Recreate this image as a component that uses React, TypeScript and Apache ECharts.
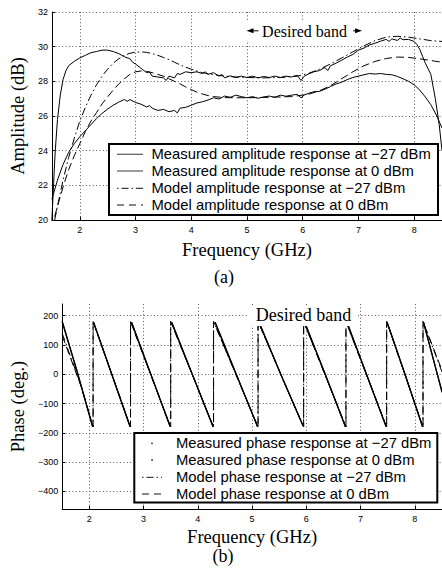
import React, { useEffect, useRef } from "react";
import * as echarts from "echarts";

// ---------- tick labels ----------
const freqTicks = [2, 3, 4, 5, 6, 7, 8];
const ampTicks = [20, 22, 24, 26, 28, 30, 32];
const phaseTicks = [-400, -300, -200, -100, 0, 100, 200];

// ---------- series names ----------
const ampNames = [
  "Measured amplitude response at \u221227 dBm",
  "Measured amplitude response at 0 dBm",
  "Model amplitude response at \u221227 dBm",
  "Model amplitude response at 0 dBm",
];
const phaseNames = [
  "Measured phase response at \u221227 dBm",
  "Measured phase response at 0 dBm",
  "Model phase response at \u221227 dBm",
  "Model phase response at 0 dBm",
];

// ---------- amplitude (dB) vs frequency (GHz) ----------
const measAmp27: [number, number][] = [
  [1.5, 20.0], [1.53, 22.1], [1.56, 24.0], [1.6, 25.8], [1.65, 27.2], [1.7, 28.1], [1.75, 28.6], [1.8, 28.9],
  [1.9, 29.15], [2.0, 29.35], [2.1, 29.5], [2.2, 29.65], [2.3, 29.72], [2.4, 29.8], [2.5, 29.8], [2.6, 29.72],
  [2.7, 29.6], [2.8, 29.42], [2.9, 29.3], [2.95, 29.1], [3.0, 29.0], [3.1, 28.75], [3.2, 28.5], [3.25, 28.55],
  [3.3, 28.3], [3.4, 28.25], [3.5, 28.2], [3.55, 28.05], [3.6, 28.3], [3.7, 28.2], [3.75, 28.45], [3.8, 28.4],
  [3.9, 28.55], [4.0, 28.5], [4.1, 28.55], [4.2, 28.45], [4.25, 28.55], [4.3, 28.4], [4.4, 28.5], [4.5, 28.3],
  [4.55, 28.4], [4.6, 28.2], [4.7, 28.32], [4.8, 28.22], [4.9, 28.3], [5.0, 28.22], [5.1, 28.3], [5.2, 28.2],
  [5.3, 28.28], [5.4, 28.22], [5.5, 28.3], [5.6, 28.22], [5.7, 28.3], [5.8, 28.25], [5.9, 28.35], [5.97, 28.05],
  [6.03, 28.3], [6.1, 28.42], [6.2, 28.55], [6.3, 28.62], [6.4, 28.8], [6.45, 28.62], [6.5, 28.9], [6.6, 29.05],
  [6.7, 29.22], [6.8, 29.4], [6.9, 29.55], [7.0, 29.8], [7.1, 29.92], [7.2, 30.1], [7.3, 30.2], [7.4, 30.32],
  [7.5, 30.42], [7.55, 30.3], [7.6, 30.45], [7.7, 30.36], [7.75, 30.5], [7.8, 30.4], [7.9, 30.42], [8.0, 30.3],
  [8.05, 30.12], [8.1, 29.85], [8.15, 29.45], [8.2, 29.05], [8.3, 28.4], [8.38, 27.0], [8.45, 25.5], [8.5, 24.0],
];
const measAmp0: [number, number][] = [
  [1.5, 21.2], [1.6, 22.3], [1.7, 23.2], [1.8, 23.9], [1.9, 24.4], [2.0, 24.8], [2.1, 25.15], [2.2, 25.5],
  [2.3, 25.85], [2.4, 26.15], [2.5, 26.4], [2.6, 26.62], [2.7, 26.8], [2.8, 26.95], [2.85, 26.85], [2.9, 26.95],
  [3.0, 26.78], [3.1, 26.68], [3.2, 26.52], [3.25, 26.6], [3.3, 26.45], [3.4, 26.32], [3.5, 26.38], [3.6, 26.25],
  [3.7, 26.32], [3.75, 26.18], [3.8, 26.45], [3.9, 26.5], [4.0, 26.62], [4.1, 26.75], [4.2, 26.82], [4.3, 26.92],
  [4.4, 27.05], [4.5, 26.98], [4.6, 27.15], [4.7, 27.08], [4.8, 27.2], [4.9, 27.12], [5.0, 27.05], [5.1, 27.12],
  [5.2, 27.02], [5.3, 27.1], [5.4, 27.15], [5.5, 27.08], [5.6, 27.2], [5.7, 27.14], [5.8, 27.2], [5.9, 27.25],
  [5.97, 27.05], [6.03, 27.22], [6.1, 27.3], [6.2, 27.4], [6.3, 27.42], [6.4, 27.55], [6.5, 27.7], [6.6, 27.85],
  [6.7, 27.95], [6.8, 28.1], [6.9, 28.22], [7.0, 28.3], [7.1, 28.38], [7.2, 28.45], [7.3, 28.42], [7.4, 28.45],
  [7.5, 28.4], [7.6, 28.38], [7.7, 28.28], [7.8, 28.15], [7.9, 28.0], [8.0, 27.8], [8.1, 27.5], [8.2, 27.1],
  [8.3, 26.65], [8.4, 26.05], [8.5, 25.3],
];
const modelAmp27: [number, number][] = [
  [1.55, 20.0], [1.6, 20.8], [1.7, 22.3], [1.8, 23.6], [1.9, 24.7], [2.0, 25.7], [2.1, 26.5], [2.2, 27.2],
  [2.3, 27.8], [2.4, 28.3], [2.5, 28.7], [2.6, 29.05], [2.7, 29.3], [2.8, 29.5], [2.9, 29.62], [3.0, 29.68],
  [3.1, 29.7], [3.2, 29.67], [3.3, 29.6], [3.4, 29.5], [3.5, 29.38], [3.6, 29.25], [3.7, 29.1], [3.8, 28.95],
  [3.9, 28.82], [4.0, 28.7], [4.2, 28.5], [4.4, 28.38], [4.6, 28.3], [4.8, 28.25], [5.0, 28.22], [5.3, 28.2],
  [5.6, 28.22], [5.9, 28.3], [6.1, 28.45], [6.3, 28.7], [6.5, 29.0], [6.7, 29.35], [6.9, 29.7], [7.1, 30.05],
  [7.3, 30.35], [7.5, 30.55], [7.7, 30.6], [7.9, 30.55], [8.1, 30.45], [8.3, 30.35], [8.5, 30.3],
];
const modelAmp0: [number, number][] = [
  [1.55, 20.2], [1.6, 20.8], [1.7, 21.9], [1.8, 22.9], [1.9, 23.7], [2.0, 24.4], [2.1, 25.1], [2.2, 25.7],
  [2.3, 26.2], [2.4, 26.7], [2.5, 27.1], [2.6, 27.5], [2.7, 27.85], [2.8, 28.15], [2.9, 28.4], [3.0, 28.55],
  [3.1, 28.6], [3.2, 28.57], [3.3, 28.5], [3.4, 28.4], [3.5, 28.3], [3.6, 28.15], [3.7, 28.0], [3.8, 27.85],
  [3.9, 27.68], [4.0, 27.52], [4.1, 27.38], [4.2, 27.27], [4.3, 27.18], [4.4, 27.12], [4.6, 27.06], [5.0, 27.05],
  [5.4, 27.08], [5.8, 27.12], [6.1, 27.25], [6.3, 27.45], [6.5, 27.75], [6.7, 28.15], [6.9, 28.55], [7.1, 28.9],
  [7.3, 29.15], [7.5, 29.32], [7.7, 29.4], [7.9, 29.38], [8.1, 29.3], [8.3, 29.2], [8.5, 29.1],
];

// ---------- phase (deg.) vs frequency (GHz) ----------
const measPhase27: [number, number][][] = [
  [[1.5, 182], [1.78, 8], [2.06, -178]],
  [[2.08, 178], [2.42, -2], [2.75, -178]],
  [[2.78, 178], [3.14, -2], [3.49, -178]],
  [[3.52, 178], [3.9, 0], [4.28, -178]],
  [[4.32, 178], [4.71, 0], [5.1, -178]],
  [[5.13, 178], [5.53, 0], [5.94, -176]],
  [[5.97, 178], [6.35, 0], [6.72, -178]],
  [[6.75, 178], [7.11, 0], [7.47, -178]],
  [[7.49, 178], [7.82, 0], [8.14, -178]],
  [[8.16, 178], [8.5, -62]],
];
const measPhase0: [number, number][][] = [
  [[1.5, 179], [1.78, 5], [2.06, -179]],
  [[2.08, 176], [2.42, -4], [2.75, -179]],
  [[2.78, 176], [3.14, -4], [3.49, -179]],
  [[3.52, 176], [3.9, -2], [4.28, -179]],
  [[4.32, 176], [4.71, -2], [5.1, -179]],
  [[5.13, 176], [5.53, -2], [5.94, -177]],
  [[5.97, 176], [6.35, -2], [6.72, -179]],
  [[6.75, 176], [7.11, -2], [7.47, -179]],
  [[7.49, 176], [7.82, -2], [8.14, -179]],
  [[8.16, 176], [8.5, -58]],
];
const modelPhase27: [number, number][] = [
  [1.5, 140], [1.85, -40], [2.07, -180], [2.07, 180], [2.76, -180], [2.76, 180], [3.5, -180], [3.5, 180],
  [4.29, -180], [4.29, 180], [5.11, -180], [5.11, 180], [5.95, -180], [5.95, 180], [6.73, -180], [6.73, 180],
  [7.48, -180], [7.48, 180], [8.15, -180], [8.15, 180], [8.5, 8],
];
const modelPhase0: [number, number][] = [
  [1.5, 132], [1.85, -42], [2.07, -180], [2.07, 180], [2.76, -180], [2.76, 180], [3.5, -180], [3.5, 180],
  [4.29, -180], [4.29, 180], [5.11, -180], [5.11, 180], [5.95, -180], [5.95, 180], [6.73, -180], [6.73, 180],
  [7.48, -180], [7.48, 180], [8.15, -180], [8.15, 180], [8.5, 14],
];

const SERIF = "'Liberation Serif', 'Times New Roman', Times, serif";
const SANS = "'Liberation Sans', Arial, Helvetica, sans-serif";
const DASH_DOT = [8, 3, 1.5, 3];
const DASHED = [8, 4];
const GRID_LINE = { color: "#555", width: 1, type: [1, 2.4] };

const minus = (v: number) => String(v).replace("-", "\u2212");

function withBreaks(segs: [number, number][][]) {
  const out: (number | null)[][] = [];
  segs.forEach((s, i) => {
    if (i > 0) out.push([s[0][0] - 0.001, null]);
    s.forEach((p) => out.push(p));
  });
  return out;
}

function makeX(gridIndex: number, nameGap: number) {
  return {
    type: "value",
    gridIndex,
    min: 1.5,
    max: 8.5,
    name: "Frequency (GHz)",
    nameLocation: "middle",
    nameGap,
    nameTextStyle: { fontFamily: SERIF, fontSize: 18.5, lineHeight: 17, color: "#000" },
    axisLine: { onZero: false, lineStyle: { color: "#000", width: 1 } },
    axisTick: { inside: true, length: 3, customValues: freqTicks, lineStyle: { color: "#000" } },
    axisLabel: { customValues: freqTicks, fontFamily: SANS, fontSize: 9, color: "#000", margin: 5 },
    splitLine: { show: true, lineStyle: GRID_LINE },
  };
}

function makeY(gridIndex: number, name: string, min: number, max: number, ticks: number[], nameGap: number) {
  return {
    type: "value",
    gridIndex,
    min,
    max,
    name,
    nameLocation: "middle",
    nameGap,
    nameTextStyle: { fontFamily: SERIF, fontSize: 18.5, color: "#000" },
    axisLine: { show: true, onZero: false, lineStyle: { color: "#000", width: 1 } },
    axisTick: { show: true, inside: true, length: 3, customValues: ticks, lineStyle: { color: "#000" } },
    axisLabel: {
      customValues: ticks,
      fontFamily: SANS,
      fontSize: 9,
      color: "#000",
      margin: 4,
      formatter: (v: number) => minus(v),
    },
    splitLine: { show: true, lineStyle: GRID_LINE },
  };
}

function legendGraphics(
  names: string[],
  box: { x: number; y: number; w: number; h: number },
  rows: number[],
  lineX: [number, number],
  textX: number,
  kinds: ("solid" | "dot" | "dashdot" | "dashed")[]
) {
  const els: any[] = [
    {
      type: "rect",
      z: 100,
      shape: { x: box.x, y: box.y, width: box.w, height: box.h },
      style: { fill: "#fff", stroke: "#000", lineWidth: 2 },
    },
  ];
  names.forEach((n, i) => {
    const y = rows[i];
    const k = kinds[i];
    if (k === "dot") {
      els.push({
        type: "circle",
        z: 101,
        shape: { cx: (lineX[0] + lineX[1]) / 2, cy: y, r: 0.8 },
        style: { fill: "#222" },
      });
    } else {
      els.push({
        type: "line",
        z: 101,
        shape: { x1: lineX[0], y1: y, x2: lineX[1], y2: y },
        style: {
          stroke: k === "solid" ? "#666" : "#111",
          lineWidth: k === "solid" ? 1.3 : 1,
          lineDash: k === "dashdot" ? [1.5, 3, 7, 3] : k === "dashed" ? [7, 5] : null,
        },
      });
    }
    els.push({
      type: "text",
      z: 101,
      x: textX,
      y,
      style: {
        text: n,
        fontFamily: SANS,
        fontSize: 14.8,
        lineHeight: 15,
        fill: "#000",
        align: "left",
        textAlign: "left",
        verticalAlign: "middle",
        textVerticalAlign: "middle",
      },
    });
  });
  return els;
}

function textEl(text: string, x: number, y: number, size: number) {
  return {
    type: "text",
    z: 102,
    x,
    y,
    style: {
      text,
      fontFamily: SERIF,
      fontSize: size,
      lineHeight: size,
      fill: "#000",
      align: "center",
      textAlign: "center",
      verticalAlign: "middle",
      textVerticalAlign: "middle",
    },
  };
}

export default function App() {
  const ref = useRef<HTMLDivElement>(null);

  useEffect(() => {
    if (!ref.current) return;
    const chart = echarts.init(ref.current, undefined, { renderer: "svg" });

    const lineBase = { type: "line", showSymbol: false, symbol: "none", connectNulls: false, z: 3 };

    const option: any = {
      animation: false,
      backgroundColor: "#fff",
      grid: [
        { left: 51.5, top: 12, width: 392, height: 208, containLabel: false },
        { left: 53.2, top: 304, width: 388.9, height: 205, containLabel: false },
      ],
      xAxis: [makeX(0, 21), makeX(1, 19)],
      yAxis: [
        makeY(0, "Amplitude (dB)", 20, 32, ampTicks, 24),
        makeY(1, "Phase (deg.)", -460, 240, phaseTicks, 26),
      ],
      series: [
        { ...lineBase, name: ampNames[0], xAxisIndex: 0, yAxisIndex: 0, data: measAmp27, lineStyle: { color: "#000", width: 1 } },
        { ...lineBase, name: ampNames[1], xAxisIndex: 0, yAxisIndex: 0, data: measAmp0, lineStyle: { color: "#000", width: 1 } },
        { ...lineBase, name: ampNames[2], xAxisIndex: 0, yAxisIndex: 0, data: modelAmp27, lineStyle: { color: "#000", width: 1, type: DASH_DOT } },
        { ...lineBase, name: ampNames[3], xAxisIndex: 0, yAxisIndex: 0, data: modelAmp0, lineStyle: { color: "#000", width: 1, type: DASHED } },
        { ...lineBase, name: phaseNames[0], xAxisIndex: 1, yAxisIndex: 1, data: withBreaks(measPhase27), lineStyle: { color: "#000", width: 1.2 } },
        { ...lineBase, name: phaseNames[1], xAxisIndex: 1, yAxisIndex: 1, data: withBreaks(measPhase0), lineStyle: { color: "#000", width: 1.2 } },
        { ...lineBase, name: phaseNames[2], xAxisIndex: 1, yAxisIndex: 1, data: modelPhase27, lineStyle: { color: "#000", width: 1, type: DASH_DOT } },
        { ...lineBase, name: phaseNames[3], xAxisIndex: 1, yAxisIndex: 1, data: modelPhase0, lineStyle: { color: "#000", width: 1, type: DASHED } },
      ],
      graphic: [
        // top annotation
        { type: "rect", z: 100, shape: { x: 245, y: 22, width: 119, height: 18 }, style: { fill: "#fff" } },
        textEl("Desired band", 304.5, 31, 16),
        { type: "polygon", z: 101, shape: { points: [[246.5, 30.8], [253.5, 28.3], [253.5, 33.3]] }, style: { fill: "#000" } },
        { type: "line", z: 101, shape: { x1: 253, y1: 30.8, x2: 258.5, y2: 30.8 }, style: { stroke: "#000", lineWidth: 1 } },
        { type: "polygon", z: 101, shape: { points: [[362, 30.8], [355, 28.3], [355, 33.3]] }, style: { fill: "#000" } },
        { type: "line", z: 101, shape: { x1: 353, y1: 30.8, x2: 356, y2: 30.8 }, style: { stroke: "#000", lineWidth: 1 } },
        // bottom annotation
        { type: "rect", z: 100, shape: { x: 249, y: 305, width: 109, height: 21 }, style: { fill: "#fff" } },
        textEl("Desired band", 303.5, 314.5, 18),
        // captions
        textEl("(a)", 224, 277, 18),
        textEl("(b)", 223, 556, 18),
        ...legendGraphics(ampNames, { x: 109, y: 144, w: 329, h: 71 }, [154.3, 171, 188.3, 205], [117, 143], 151.5, [
          "solid",
          "solid",
          "dashdot",
          "dashed",
        ]),
        ...legendGraphics(phaseNames, { x: 134.3, y: 433, w: 303, h: 69.5 }, [443.3, 460, 477.3, 494], [142, 162], 176, [
          "dot",
          "dot",
          "dashdot",
          "dashed",
        ]),
      ],
    };

    chart.setOption(option);
    return () => chart.dispose();
  }, []);

  return (
    <div
      ref={ref}
      style={{ position: "absolute", left: 0, top: 0, width: 442, height: 574, background: "#fff" }}
    />
  );
}
